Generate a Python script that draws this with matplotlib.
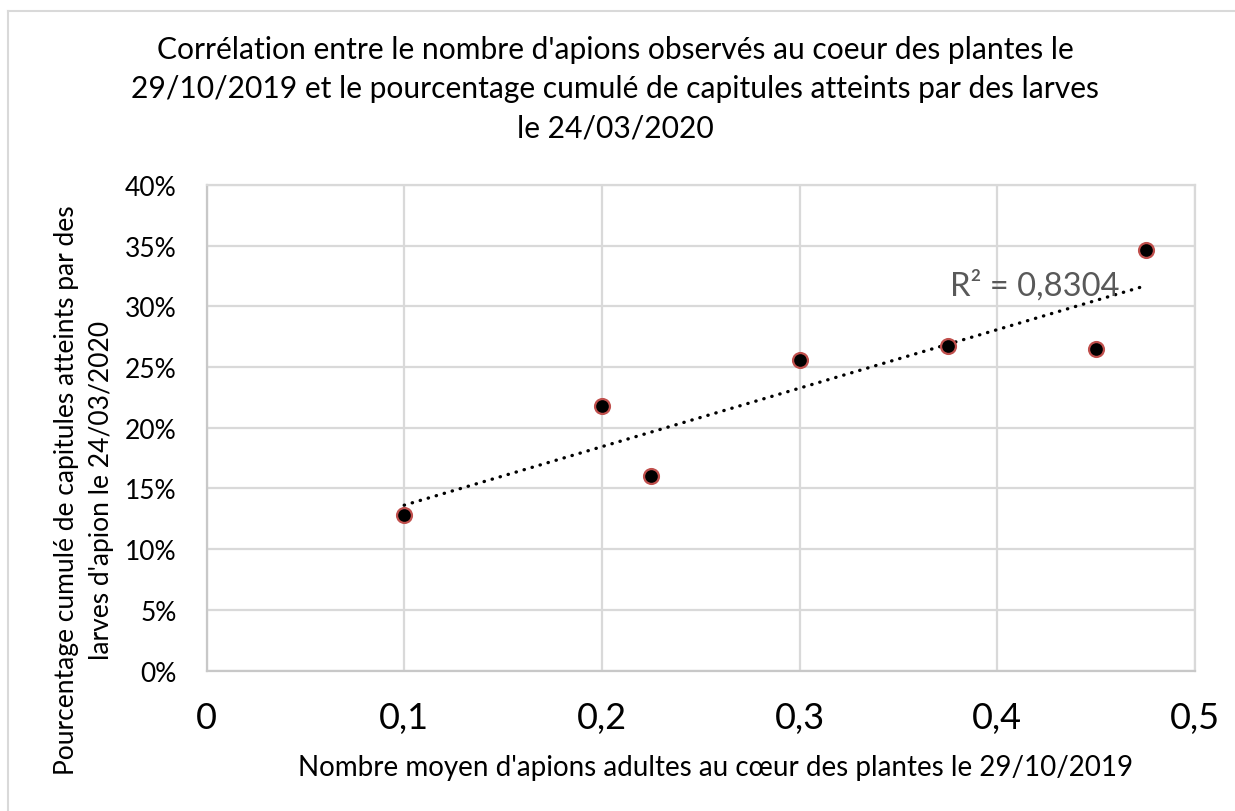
import numpy as np
import matplotlib
matplotlib.use("Agg")
import matplotlib.pyplot as plt
from matplotlib.lines import Line2D

# Data
x_vals = [0.1, 0.2, 0.225, 0.3, 0.375, 0.45, 0.475]
y_vals = [0.128, 0.218, 0.160, 0.256, 0.267, 0.265, 0.346]
x_ticks = [0, 0.1, 0.2, 0.3, 0.4, 0.5]
x_ticklabels = ["0", "0,1", "0,2", "0,3", "0,4", "0,5"]
y_ticks = [0, 0.05, 0.10, 0.15, 0.20, 0.25, 0.30, 0.35, 0.40]
y_ticklabels = ["0%", "5%", "10%", "15%", "20%", "25%", "30%", "35%", "40%"]
r2_label = "R² = 0,8304"

title = ("Corrélation entre le nombre d'apions observés au coeur des plantes le\n"
         "29/10/2019 et le pourcentage cumulé de capitules atteints par des larves\n"
         "le 24/03/2020")
xlabel = "Nombre moyen d'apions adultes au cœur des plantes le 29/10/2019"
ylabel = "Pourcentage cumulé de capitules atteints par des\nlarves d'apion le 24/03/2020"

plt.rcParams['font.family'] = ['Lato', 'DejaVu Sans']

W, H = 1235, 812
fig = plt.figure(figsize=(W / 100, H / 100), dpi=100)
ax = fig.add_axes([206.5 / W, 1 - 671.6 / H, (1195 - 206.5) / W, (671.6 - 185.8) / H])

grid_c = "#d9d9d9"
ax.set_xlim(0, 0.5)
ax.set_ylim(0, 0.40)
ax.set_xticks(x_ticks)
ax.set_xticklabels(x_ticklabels, fontsize=26)
ax.set_yticks(y_ticks)
ax.set_yticklabels(y_ticklabels, fontsize=19)
ax.tick_params(axis='x', length=0, pad=22)
ax.tick_params(axis='y', length=0, pad=21.5)
ax.grid(True, color=grid_c, linewidth=1.6)
ax.set_axisbelow(True)
for s in ax.spines.values():
    s.set_color(grid_c)
    s.set_linewidth(1.6)
ax.spines['left'].set_color("#c8c8c8")
ax.spines['bottom'].set_color("#c8c8c8")

# trendline (linear fit of the data)
xa = np.array(x_vals)
ya = np.array(y_vals)
m, b = np.polyfit(xa, ya, 1)
xl = np.array([xa.min(), xa.max()])
ax.plot(xl, m * xl + b, color="black", linewidth=2.4, linestyle=(0, (0.1, 2.4)),
        dash_capstyle='round', zorder=3)

ax.scatter(x_vals, y_vals, s=115, color="black", edgecolor="#c0504d", linewidth=1.6, zorder=4)

ax.text(0.376, 0.318, r2_label, fontsize=23.5, color="#595959", ha='left', va='center', zorder=5)

fig.text(615 / W, 1 - 89 / H, title, ha='center', va='center', fontsize=21.6,
         linespacing=1.5, color="black")
fig.text(716 / W, 1 - 768 / H, xlabel, ha='center', va='center', fontsize=20)
fig.text(84 / W, 1 - 490 / H, ylabel, ha='center', va='center', fontsize=19,
         rotation=90, linespacing=1.5)

# chart border
fig.add_artist(Line2D([8 / W, 8 / W], [0, 1 - 12 / H], transform=fig.transFigure, color="#d9d9d9", lw=1.5))
fig.add_artist(Line2D([8 / W, 1], [1 - 12 / H, 1 - 12 / H], transform=fig.transFigure, color="#d9d9d9", lw=1.5))

fig.savefig("out.png", dpi=100, facecolor="white")
